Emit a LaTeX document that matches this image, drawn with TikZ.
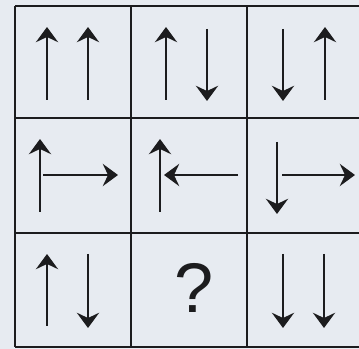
\documentclass[tikz,border=0pt]{standalone}
\usepackage{fontspec}
\newfontfamily\arialfont{Liberation Sans}
\usepackage{tikz}
\usetikzlibrary{arrows.meta}
\usepackage{xcolor}
\definecolor{paper}{RGB}{231,235,241}
\definecolor{ink}{RGB}{28,28,30}

\begin{document}
\begin{tikzpicture}[x=0.03cm,y=-0.03cm,
  ln/.style={ink,line width=2.1pt},
  ar/.style={ink,line width=1.8pt,-{Stealth[length=13pt,width=19pt,inset=4.5pt]}},
  qm/.style={ink,inner sep=0pt,font={\arialfont\fontsize{60}{64}\selectfont}}]
\useasboundingbox (0,0) rectangle (359,349);
\fill[paper] (0,0) rectangle (359,349);
% grid
\draw[ln] (15,6)--(359,6);
\draw[ln] (15,118)--(359,118);
\draw[ln] (15,233)--(359,233);
\draw[ln] (15,347)--(359,347);
\draw[ln] (15,6)--(15,347);
\draw[ln] (131,6)--(131,347);
\draw[ln] (247,6)--(247,347);
% first row
\draw[ar] (47,100)--(47,27);
\draw[ar] (88,100)--(88,27);
\draw[ar] (166,100)--(166,27);
\draw[ar] (207,29)--(207,101);
\draw[ar] (283,29)--(283,101);
\draw[ar] (325,100)--(325,27);
% second row
\draw[ar] (40,212)--(40,139);
\draw[ar] (43,175)--(118,175);
\draw[ar] (160,212)--(160,139);
\draw[ar] (238,175)--(164,175);
\draw[ar] (277,142)--(277,214);
\draw[ar] (282,175)--(355,175);
% third row
\draw[ar] (47,326)--(47,254);
\draw[ar] (88,254)--(88,328);
\node[qm] (ask) at (194,288) {?};
\draw[ar] (283,254)--(283,328);
\draw[ar] (324,254)--(324,328);
\end{tikzpicture}
\end{document}
